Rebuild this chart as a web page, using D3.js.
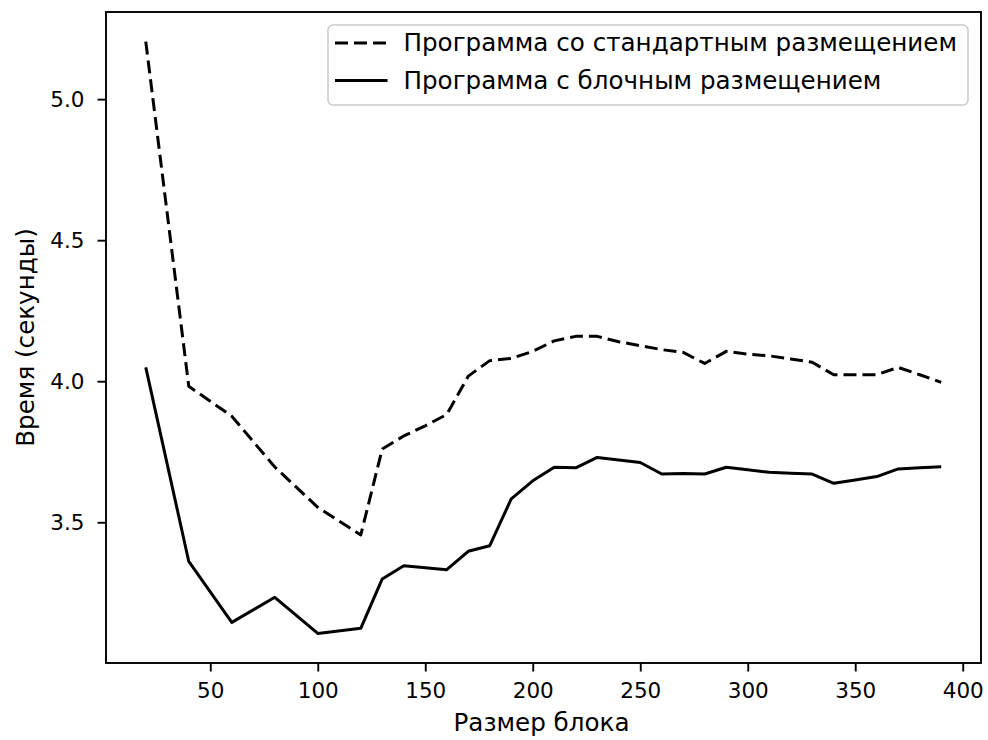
<!DOCTYPE html>
<html>
<head>
<meta charset="utf-8">
<script src="https://cdn.jsdelivr.net/npm/d3@7"></script>
<style>
  html, body { margin: 0; padding: 0; background: #fff; }
  svg { display: block; }
  text { font-family: "DejaVu Sans", sans-serif; fill: #000; }
</style>
</head>
<body>
<svg id="chart" width="988" height="740"></svg>
<script>
// ---- data ----
const blockSizes = [20, 40, 60, 80, 100, 120, 130, 140, 150, 160, 170, 180, 190, 200, 210, 220, 230, 240, 250, 260, 270, 280, 290, 300, 310, 320, 330, 340, 350, 360, 370, 380, 390];
const standardTimes = [5.204, 3.982, 3.876, 3.696, 3.553, 3.455, 3.760, 3.806, 3.842, 3.882, 4.018, 4.073, 4.081, 4.106, 4.143, 4.159, 4.159, 4.140, 4.126, 4.112, 4.102, 4.063, 4.106, 4.096, 4.090, 4.079, 4.067, 4.023, 4.023, 4.023, 4.049, 4.023, 3.996];
const blockedTimes = [4.049, 3.361, 3.145, 3.234, 3.106, 3.124, 3.299, 3.346, 3.339, 3.332, 3.397, 3.417, 3.583, 3.647, 3.695, 3.693, 3.730, 3.721, 3.712, 3.671, 3.673, 3.671, 3.695, 3.686, 3.677, 3.674, 3.671, 3.638, 3.650, 3.662, 3.689, 3.693, 3.697];
const xTicks = [50, 100, 150, 200, 250, 300, 350, 400];
const yTicks = [3.5, 4.0, 4.5, 5.0];
const seriesNames = ["Программа со стандартным размещением", "Программа с блочным размещением"];
const xLabel = "Размер блока";
const yLabel = "Время (секунды)";

// ---- layout ----
const svg = d3.select("#chart");
const L = 106, R = 981, T = 12, B = 663;
const FS_TICK = 21.5;
const FS = 24.6;
const LW = 3.0;
const DASH = "13,6";

const allY = standardTimes.concat(blockedTimes);
const xMin = d3.min(blockSizes), xMax = d3.max(blockSizes);
const yMin = d3.min(allY), yMax = d3.max(allY);
const xPad = (xMax - xMin) * 0.05, yPad = (yMax - yMin) * 0.05;

const x = d3.scaleLinear().domain([xMin - xPad, xMax + xPad]).range([L, R]);
const y = d3.scaleLinear().domain([yMin - yPad, yMax + yPad]).range([B, T]);

// axes
const xAxis = d3.axisBottom(x).tickValues(xTicks).tickSize(8.5).tickPadding(11).tickFormat(d3.format("d"));
const yAxis = d3.axisLeft(y).tickValues(yTicks).tickSize(8.5).tickPadding(13).tickFormat(d3.format(".1f"));

const gx = svg.append("g").attr("transform", `translate(0,${B})`).call(xAxis);
const gy = svg.append("g").attr("transform", `translate(${L},0)`).call(yAxis);
[gx, gy].forEach(g => {
  g.select(".domain").remove();
  g.selectAll(".tick line").attr("stroke", "#000").attr("stroke-width", 1.9);
  g.selectAll(".tick text").attr("font-size", FS_TICK).attr("font-family", "DejaVu Sans").attr("fill", "#000");
});

// lines
const line = vals => d3.line().x((d, i) => x(blockSizes[i])).y(d => y(d))(vals);

svg.append("path")
  .attr("d", line(standardTimes))
  .attr("fill", "none").attr("stroke", "#000").attr("stroke-width", LW)
  .attr("stroke-dasharray", DASH).attr("stroke-linejoin", "round");

svg.append("path")
  .attr("d", line(blockedTimes))
  .attr("fill", "none").attr("stroke", "#000").attr("stroke-width", LW)
  .attr("stroke-linejoin", "round");

// frame
svg.append("rect")
  .attr("x", L).attr("y", T).attr("width", R - L).attr("height", B - T)
  .attr("fill", "none").attr("stroke", "#000").attr("stroke-width", 1.9);

// axis labels
svg.append("text")
  .attr("x", (L + R) / 2 - 2).attr("y", 731)
  .attr("text-anchor", "middle").attr("font-size", FS)
  .text(xLabel);

svg.append("text")
  .attr("transform", `translate(34,${(T + B) / 2}) rotate(-90)`)
  .attr("text-anchor", "middle").attr("font-size", FS)
  .text(yLabel);

// legend
const leg = svg.append("g");
leg.append("rect")
  .attr("x", 328).attr("y", 25).attr("width", 640).attr("height", 80)
  .attr("rx", 5).attr("ry", 5)
  .attr("fill", "#fff").attr("fill-opacity", 0.8)
  .attr("stroke", "#cccccc").attr("stroke-width", 1.6);

const legRows = [
  { name: seriesNames[0], dash: DASH, yy: 43 },
  { name: seriesNames[1], dash: null, yy: 80.5 }
];
legRows.forEach(r => {
  leg.append("line")
    .attr("x1", 335).attr("x2", 387.5).attr("y1", r.yy).attr("y2", r.yy)
    .attr("stroke", "#000").attr("stroke-width", LW)
    .attr("stroke-dasharray", r.dash);
  leg.append("text")
    .attr("x", 403.5).attr("y", r.yy).attr("dy", "0.33em")
    .attr("font-size", FS)
    .text(r.name);
});
</script>
</body>
</html>
